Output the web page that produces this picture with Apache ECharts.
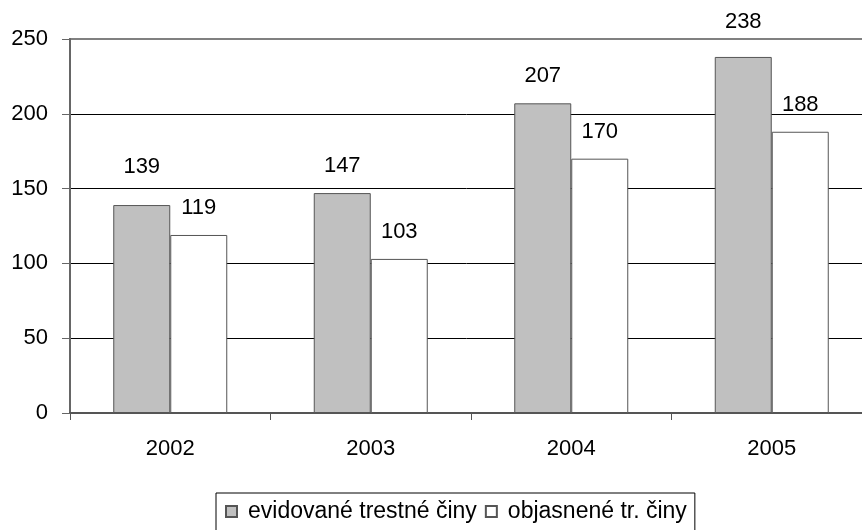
<!DOCTYPE html>
<html>
<head>
<meta charset="utf-8">
<script src="https://cdn.jsdelivr.net/npm/echarts@6/dist/echarts.min.js"></script>
<style>
  html, body { margin: 0; padding: 0; background: #fff; }
  #chart { width: 862px; height: 530px; }
</style>
</head>
<body>
<div id="chart"></div>
<script>
// Years on the category axis
const years = ['2002', '2003', '2004', '2005'];
// Recorded offences per year
const recorded = [139, 147, 207, 238];
// Cleared-up offences per year
const cleared = [119, 103, 170, 188];
// Series names shown in the legend
const seriesNames = ['evidované trestné činy', 'objasnené tr. činy'];

// Extra lift (px) for individual value labels of the first series
const recordedLabelLift = [11, 0, 0, 8];

const FONT = '"Liberation Sans", Arial, sans-serif';
const LABEL_DISTANCE = 16;

const chart = echarts.init(document.getElementById('chart'), null, { renderer: 'canvas' });

chart.setOption({
  animation: false,
  backgroundColor: '#ffffff',
  textStyle: { fontFamily: FONT },
  grid: {
    left: 70,
    top: 39,
    bottom: 117,
    width: 802,
    outerBoundsMode: 'none',
    containLabel: false,
    show: true,
    borderColor: '#808080',
    borderWidth: 2,
    backgroundColor: 'transparent'
  },
  legend: {
    left: 216,
    top: 493,
    padding: [7, 8, 12, 9],
    borderColor: '#000',
    borderWidth: 1,
    itemGap: 8,
    itemWidth: 11,
    itemHeight: 11,
    icon: 'rect',
    textStyle: { fontFamily: FONT, fontSize: 23, color: '#000', padding: [0, 0, 0, 6] },
    data: seriesNames
  },
  xAxis: {
    type: 'category',
    data: years,
    axisLine: { lineStyle: { color: '#555', width: 2 } },
    axisTick: { show: true, length: 7, alignWithLabel: false, lineStyle: { color: '#555', width: 1 } },
    axisLabel: { color: '#000', fontSize: 22, fontFamily: FONT, margin: 25 },
    splitLine: { show: false }
  },
  yAxis: {
    type: 'value',
    min: 0,
    max: 250,
    interval: 50,
    axisLine: { show: true, lineStyle: { color: '#666', width: 2 } },
    axisTick: { show: true, length: 8, lineStyle: { color: '#666', width: 1 } },
    axisLabel: { color: '#000', fontSize: 22, fontFamily: FONT, margin: 22 },
    splitLine: { show: true, showMaxLine: false, lineStyle: { color: '#000', width: 1 } }
  },
  series: [
    {
      name: seriesNames[0],
      type: 'bar',
      data: recorded.map((v, i) => ({
        value: v,
        label: { distance: LABEL_DISTANCE + recordedLabelLift[i] }
      })),
      barWidth: 57,
      barGap: '0%',
      itemStyle: { color: '#c0c0c0', borderColor: '#555', borderWidth: 1 },
      label: {
        show: true,
        position: 'top',
        distance: LABEL_DISTANCE,
        color: '#000',
        fontSize: 22,
        fontFamily: FONT
      }
    },
    {
      name: seriesNames[1],
      type: 'bar',
      data: cleared,
      barWidth: 57,
      barGap: '0%',
      itemStyle: { color: '#ffffff', borderColor: '#555', borderWidth: 1 },
      label: {
        show: true,
        position: 'top',
        distance: LABEL_DISTANCE,
        color: '#000',
        fontSize: 22,
        fontFamily: FONT
      }
    }
  ]
});
</script>
</body>
</html>
